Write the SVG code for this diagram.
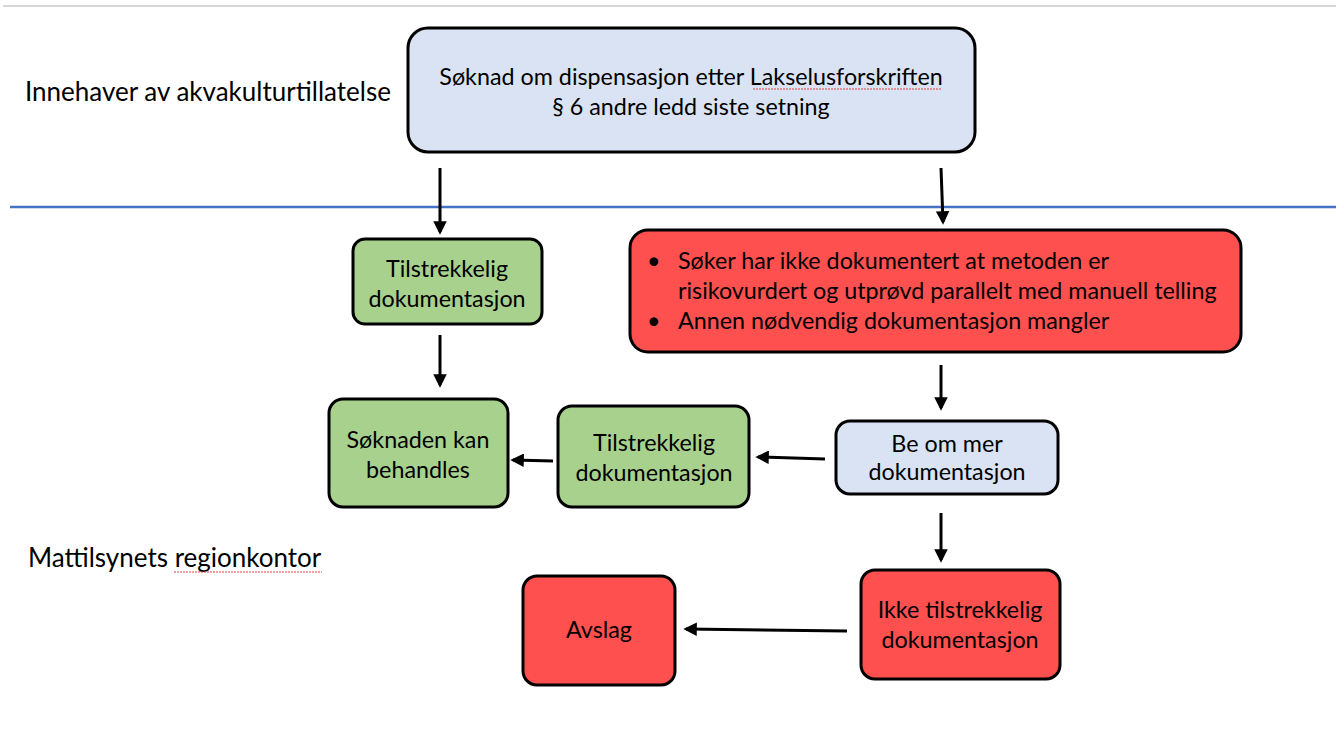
<svg xmlns="http://www.w3.org/2000/svg" width="1336" height="753" viewBox="0 0 1336 753">
<style>
.t{font-family:Lato,"Open Sans","Liberation Sans",sans-serif;font-size:23.3px;fill:#000;}
.lab{font-family:Lato,"Open Sans","Liberation Sans",sans-serif;font-size:26px;fill:#000;}
.box{stroke:#000;stroke-width:3;}
.blue{fill:#dae3f3;}
.green{fill:#a9d18e;}
.red{fill:#ff5050;}
.c{stroke:#000;stroke-width:3;fill:none;marker-end:url(#ah);}
.sp{stroke:#e04040;stroke-width:1;fill:none;stroke-dasharray:2 1;}
</style>
<defs>
<marker id="ah" viewBox="0 0 10 10" refX="8" refY="5" markerWidth="4.5" markerHeight="4.5" orient="auto" markerUnits="strokeWidth">
<path d="M0,0 L10,5 L0,10 z" fill="#000"/>
</marker>
</defs>
<rect width="1336" height="753" fill="#fff"/>
<line x1="3" y1="6" x2="1336" y2="6" stroke="#c8c8c8" stroke-width="1.5"/>
<line x1="10" y1="207" x2="1336" y2="207" stroke="#4472c4" stroke-width="2.5"/>
<text class="lab" x="25" y="101">Innehaver av akvakulturtillatelse</text>
<text class="lab" x="28" y="567">Mattilsynets regionkontor</text>
<path class="sp" d="M174,572 L322,572"/>
<g id="n1">
<rect class="box blue" x="408" y="28" width="567" height="124" rx="20"/>
<text class="t" x="691" y="85" text-anchor="middle">Søknad om dispensasjon etter Lakselusforskriften</text>
<path class="sp" d="M753,89 L942,89"/>
<text class="t" x="691" y="115" text-anchor="middle">§ 6 andre ledd siste setning</text>
</g>
<g id="n2">
<rect class="box green" x="353" y="239" width="189" height="85" rx="12"/>
<text class="t" x="447" y="277" text-anchor="middle">Tilstrekkelig</text>
<text class="t" x="447" y="307" text-anchor="middle">dokumentasjon</text>
</g>
<g id="n3">
<rect class="box red" x="630" y="230" width="611" height="122" rx="18"/>
<text class="t" x="647" y="269">•</text>
<text class="t" x="678" y="269">Søker har ikke dokumentert at metoden er</text>
<text class="t" x="678" y="299">risikovurdert og utprøvd parallelt med manuell telling</text>
<text class="t" x="647" y="329">•</text>
<text class="t" x="678" y="329">Annen nødvendig dokumentasjon mangler</text>
</g>
<g id="n4">
<rect class="box green" x="329" y="399" width="179" height="108" rx="14"/>
<text class="t" x="418" y="448" text-anchor="middle">Søknaden kan</text>
<text class="t" x="418" y="478" text-anchor="middle">behandles</text>
</g>
<g id="n5">
<rect class="box green" x="558" y="406" width="191" height="101" rx="14"/>
<text class="t" x="654" y="451" text-anchor="middle">Tilstrekkelig</text>
<text class="t" x="654" y="481" text-anchor="middle">dokumentasjon</text>
</g>
<g id="n6">
<rect class="box blue" x="836" y="421" width="222" height="73" rx="14"/>
<text class="t" x="947" y="452" text-anchor="middle">Be om mer</text>
<text class="t" x="947" y="480" text-anchor="middle">dokumentasjon</text>
</g>
<g id="n7">
<rect class="box red" x="861" y="570" width="199" height="109" rx="14"/>
<text class="t" x="960" y="618" text-anchor="middle">Ikke tilstrekkelig</text>
<text class="t" x="960" y="648" text-anchor="middle">dokumentasjon</text>
</g>
<g id="n8">
<rect class="box red" x="523" y="576" width="152" height="109" rx="14"/>
<text class="t" x="599" y="638" text-anchor="middle">Avslag</text>
</g>
<g id="connectors">
<line class="c" x1="440" y1="168" x2="440" y2="232"/>
<line class="c" x1="941" y1="168" x2="943" y2="222"/>
<line class="c" x1="440" y1="335" x2="440" y2="385"/>
<line class="c" x1="941" y1="365" x2="941" y2="408"/>
<line class="c" x1="825" y1="459" x2="758" y2="457"/>
<line class="c" x1="553" y1="461" x2="513" y2="460"/>
<line class="c" x1="941" y1="513" x2="941" y2="560"/>
<line class="c" x1="847" y1="631" x2="686" y2="629"/>
</g>
</svg>
